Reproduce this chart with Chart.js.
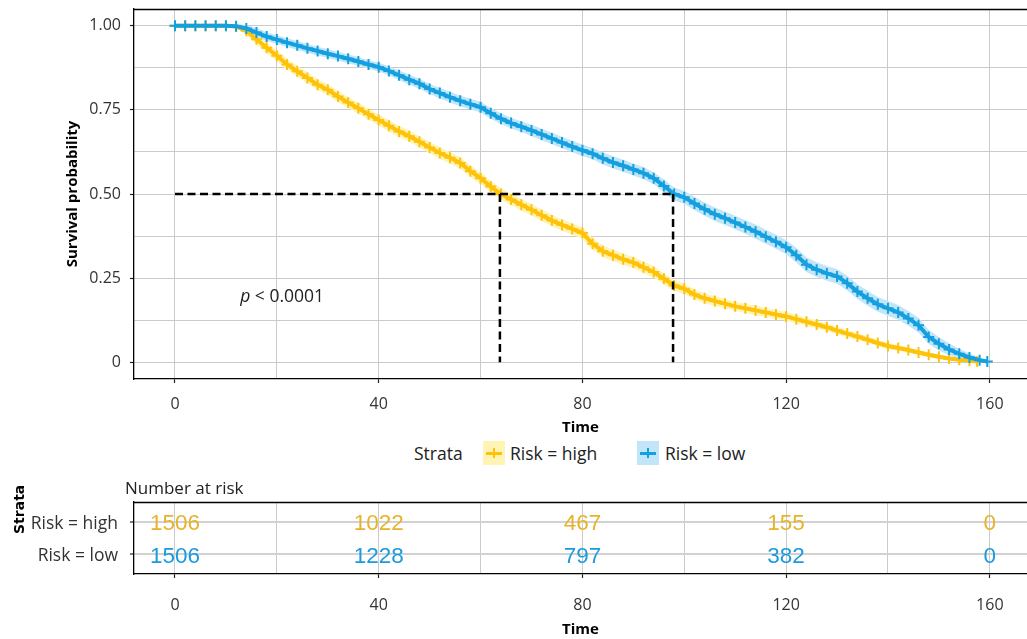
<!DOCTYPE html>
<html><head><meta charset="utf-8">
<script src="https://cdn.jsdelivr.net/npm/chart.js@4.4.1/dist/chart.umd.min.js"></script>
<style>
body{margin:0;width:1027px;height:639px;overflow:hidden;background:#fff;font-family:"Open Sans",sans-serif;position:relative;}
canvas{position:absolute;left:0;}
#c1{top:0;} #c2{top:470px;}
.lbl{position:absolute;white-space:nowrap;color:#222;font-size:17.5px;line-height:24px;}
.key{position:absolute;width:22px;height:24px;}
.key .h{position:absolute;left:3px;top:10.5px;width:16px;height:3px;}
.key .v{position:absolute;left:10px;top:7px;width:2px;height:10px;}
</style></head><body>
<canvas id="c1" width="1027" height="440"></canvas>
<canvas id="c2" width="1027" height="169"></canvas>
<div class="lbl" style="left:414px;top:441px;">Strata</div>
<div class="key" style="left:483px;top:441px;background:#FFF4B3"><span class="h" style="background:#FFC20A"></span><span class="v" style="background:#FFC20A"></span></div>
<div class="lbl" style="left:510px;top:441px;">Risk = high</div>
<div class="key" style="left:637px;top:441px;background:#C2E6F7"><span class="h" style="background:#14A0E0"></span><span class="v" style="background:#14A0E0"></span></div>
<div class="lbl" style="left:665px;top:441px;">Risk = low</div>
<div class="lbl" style="left:125px;top:476px;font-size:17px;">Number at risk</div>
<div class="lbl" style="left:-2px;top:501px;width:42px;text-align:center;transform:rotate(-90deg);font-family:'DejaVu Sans';font-weight:bold;font-size:14px;color:#000;">Strata</div>
<script>
const strata = ['Risk = high', 'Risk = low'];
const timesHigh = [0,2,4,6,8,10,12,14,16,18,20,22,24,26,28,30,32,34,36,38,40,42,44,46,48,50,52,54,56,58,60,62,64,66,68,70,72,74,76,78,80,82,84,86,88,90,92,94,96,98,100,102,104,106,108,110,112,114,116,118,120,122,124,126,128,130,132,134,136,138,140,142,144,146,148,150,152,154,156,157.5];
const survHigh = [1,1,1,1,1,1,0.998,0.985,0.960,0.935,0.911,0.885,0.865,0.845,0.825,0.810,0.790,0.772,0.755,0.737,0.720,0.703,0.686,0.672,0.655,0.638,0.622,0.608,0.592,0.568,0.547,0.522,0.500,0.484,0.468,0.453,0.437,0.421,0.408,0.396,0.384,0.352,0.330,0.318,0.306,0.296,0.282,0.268,0.248,0.228,0.218,0.201,0.190,0.182,0.174,0.166,0.160,0.154,0.148,0.142,0.136,0.128,0.120,0.112,0.104,0.094,0.085,0.076,0.067,0.057,0.048,0.042,0.036,0.029,0.022,0.016,0.011,0.007,0.004,0.002];
const bandHigh = [0.004,0.004,0.004,0.004,0.004,0.004,0.006,0.012,0.016,0.016,0.016,0.016,0.016,0.016,0.016,0.016,0.016,0.016,0.016,0.016,0.016,0.017,0.017,0.017,0.017,0.017,0.017,0.017,0.017,0.017,0.017,0.017,0.017,0.017,0.017,0.017,0.017,0.017,0.017,0.017,0.017,0.017,0.017,0.017,0.017,0.017,0.017,0.017,0.016,0.016,0.015,0.015,0.015,0.015,0.014,0.014,0.014,0.014,0.013,0.013,0.013,0.012,0.012,0.012,0.011,0.011,0.010,0.010,0.009,0.009,0.009,0.008,0.008,0.007,0.007,0.006,0.005,0.004,0.003,0.002];
const timesLow = [0,2,4,6,8,10,12,14,16,18,20,22,24,26,28,30,32,34,36,38,40,42,44,46,48,50,52,54,56,58,60,62,64,66,68,70,72,74,76,78,80,82,84,86,88,90,92,94,96,98,100,102,104,106,108,110,112,114,116,118,120,122,124,126,128,130,132,134,136,138,140,142,144,146,148,150,152,154,156,158,159.5];
const survLow = [1,1,1,1,1,1,0.999,0.992,0.980,0.968,0.959,0.950,0.942,0.933,0.925,0.917,0.910,0.902,0.894,0.885,0.877,0.866,0.853,0.840,0.828,0.812,0.800,0.788,0.777,0.767,0.758,0.740,0.724,0.711,0.700,0.689,0.677,0.665,0.653,0.641,0.630,0.620,0.606,0.594,0.584,0.573,0.562,0.547,0.524,0.500,0.490,0.472,0.455,0.440,0.428,0.415,0.402,0.388,0.373,0.358,0.342,0.318,0.290,0.275,0.264,0.255,0.235,0.210,0.190,0.172,0.160,0.148,0.130,0.110,0.075,0.055,0.038,0.025,0.014,0.006,0.002];
const bandLow = [0.004,0.004,0.004,0.004,0.004,0.004,0.006,0.011,0.013,0.013,0.013,0.013,0.013,0.013,0.013,0.013,0.013,0.013,0.013,0.013,0.013,0.014,0.014,0.015,0.015,0.015,0.016,0.016,0.016,0.016,0.016,0.016,0.016,0.016,0.016,0.017,0.017,0.017,0.017,0.017,0.017,0.017,0.018,0.018,0.018,0.018,0.018,0.018,0.019,0.019,0.019,0.020,0.020,0.020,0.020,0.020,0.020,0.021,0.021,0.021,0.021,0.022,0.022,0.022,0.022,0.022,0.022,0.022,0.022,0.022,0.022,0.022,0.022,0.022,0.021,0.020,0.018,0.015,0.012,0.008,0.004];
const medianTimes = [63.8, 97.8];
const medianLevel = 0.5;
const pValueText = ['p', ' < 0.0001'];
const pValuePos = [12.8, 0.195];
const riskTimes = [0, 40, 80, 120, 160];
const riskHigh = [1506, 1022, 467, 155, 0];
const riskLow = [1506, 1228, 797, 382, 0];
const xTicks = [0, 20, 40, 60, 80, 100, 120, 140, 160];
const yTicks = [0, 0.125, 0.25, 0.375, 0.5, 0.625, 0.75, 0.875, 1];

const colHigh = '#FFC20A', colLow = '#14A0E0';
const bandColHigh = '#FFF4B3', bandColLow = '#C2E6F7';
const txtHigh = '#E7B32A', txtLow = '#1B9BDC';
const XMIN = -8.05, XMAX = 167.3;
const FONT = "'Open Sans', sans-serif";

const pts = (t, s) => t.map((v, i) => ({x: v, y: s[i]}));
const off = (t, s, b, sign) => t.map((v, i) => ({x: v, y: s[i] + sign * b[i]}));

const topBorder = {id: 'topBorder', afterDraw(chart) {
  const {ctx, chartArea: a} = chart;
  ctx.save(); ctx.strokeStyle = '#000'; ctx.lineWidth = 1.3;
  ctx.beginPath(); ctx.moveTo(a.left, Math.round(a.top) + 0.5); ctx.lineTo(a.right, Math.round(a.top) + 0.5); ctx.stroke();
  ctx.restore();
}};

const pvalPlugin = {id: 'pval', afterDatasetsDraw(chart) {
  const {ctx, scales} = chart;
  const x = scales.x.getPixelForValue(pValuePos[0]);
  const y = scales.y.getPixelForValue(pValuePos[1]);
  ctx.save(); ctx.fillStyle = '#222'; ctx.textBaseline = 'middle'; ctx.textAlign = 'left';
  ctx.font = "italic 17.5px " + FONT; ctx.fillText(pValueText[0], x, y);
  const w = ctx.measureText(pValueText[0]).width;
  ctx.font = "17.5px " + FONT; ctx.fillText(pValueText[1], x + w, y);
  ctx.restore();
}};

const dashStyle = {borderColor: '#000', borderWidth: 2.5, borderDash: [8, 4.5], pointRadius: 0, fill: false};
const datasets = [
  Object.assign({data: [{x: 0, y: medianLevel}, {x: Math.max(...medianTimes), y: medianLevel}]}, dashStyle),
  ...medianTimes.map(m => Object.assign({data: [{x: m, y: medianLevel}, {x: m, y: 0}]}, dashStyle)),
  {label: strata[1], data: pts(timesLow, survLow), borderColor: colLow, borderWidth: 4,
   pointStyle: 'cross', pointRadius: 5.5, pointBorderWidth: 2, pointBorderColor: colLow, fill: false},
  {label: strata[0], data: pts(timesHigh, survHigh), borderColor: colHigh, borderWidth: 4,
   pointStyle: 'cross', pointRadius: 5.5, pointBorderWidth: 2, pointBorderColor: colHigh, fill: false},
  {data: off(timesLow, survLow, bandLow, 1), borderWidth: 0, pointRadius: 0, fill: '+1', backgroundColor: bandColLow},
  {data: off(timesLow, survLow, bandLow, -1), borderWidth: 0, pointRadius: 0, fill: false},
  {data: off(timesHigh, survHigh, bandHigh, 1), borderWidth: 0, pointRadius: 0, fill: '+1', backgroundColor: bandColHigh},
  {data: off(timesHigh, survHigh, bandHigh, -1), borderWidth: 0, pointRadius: 0, fill: false}
];

const tickCol = (major) => (ctx) => (ctx.tick && major(ctx.tick.value)) ? '#222' : 'rgba(0,0,0,0)';
const isMajorX = v => v % 40 === 0;
const isMajorY = v => Math.abs(v * 4 - Math.round(v * 4)) < 1e-9;

new Chart(document.getElementById('c1'), {
  type: 'line',
  data: {datasets},
  plugins: [topBorder, pvalPlugin],
  options: {
    responsive: false, animation: false, events: [],
    layout: {autoPadding: false, padding: {top: 9, left: 0, right: 0, bottom: 0}},
    plugins: {legend: {display: false}, tooltip: {enabled: false}},
    scales: {
      x: {type: 'linear', min: XMIN, max: XMAX,
        afterBuildTicks: s => { s.ticks = xTicks.map(v => ({value: v})); },
        afterFit: s => { s.height = 61; s.paddingLeft = 0; s.paddingRight = 0; },
        ticks: {callback: v => isMajorX(v) ? String(v) : '', color: '#333', font: {family: FONT, size: 16}, padding: 12, maxRotation: 0, autoSkip: false},
        grid: {color: '#CBCBCB', lineWidth: 1, tickLength: 4, tickColor: tickCol(isMajorX), tickWidth: 1.2},
        border: {display: true, color: '#000', width: 1.3},
        title: {display: true, text: 'Time', color: '#000', font: {family: FONT, size: 15, weight: 'bold'}, padding: {top: 0, bottom: 3}}
      },
      y: {type: 'linear', min: -0.05, max: 1.05,
        afterBuildTicks: s => { s.ticks = yTicks.map(v => ({value: v})); },
        afterFit: s => { s.width = 134; s.paddingTop = 0; s.paddingBottom = 0; },
        ticks: {callback: v => isMajorY(v) ? (v === 0 ? '0' : v.toFixed(2)) : '', color: '#333', font: {family: FONT, size: 16}, padding: 9, autoSkip: false},
        grid: {color: '#CBCBCB', lineWidth: 1, tickLength: 4, tickColor: tickCol(isMajorY), tickWidth: 1.2},
        border: {display: true, color: '#000', width: 1.3},
        title: {display: true, text: 'Survival probability', color: '#000', font: {family: FONT, size: 15, weight: 'bold'}, padding: {top: 64, bottom: 0}}
      }
    }
  }
});

const riskPlugin = {id: 'risk', afterDatasetsDraw(chart) {
  const {ctx, scales} = chart;
  ctx.save(); ctx.textAlign = 'center'; ctx.textBaseline = 'middle';
  ctx.font = "22.5px 'Liberation Sans', Arial, sans-serif";
  [[riskHigh, 1, txtHigh], [riskLow, 2, txtLow]].forEach(([vals, row, col]) => {
    ctx.fillStyle = col;
    vals.forEach((v, i) => ctx.fillText(String(v), scales.x.getPixelForValue(riskTimes[i]), scales.y.getPixelForValue(row) + 2.5));
  });
  ctx.restore();
}};

new Chart(document.getElementById('c2'), {
  type: 'scatter',
  data: {datasets: [{data: [], pointRadius: 0}]},
  plugins: [topBorder, riskPlugin],
  options: {
    responsive: false, animation: false, events: [],
    layout: {autoPadding: false, padding: {top: 32, left: 0, right: 0, bottom: 0}},
    plugins: {legend: {display: false}, tooltip: {enabled: false}},
    scales: {
      x: {type: 'linear', min: XMIN, max: XMAX,
        afterBuildTicks: s => { s.ticks = xTicks.map(v => ({value: v})); },
        afterFit: s => { s.height = 65; s.paddingLeft = 0; s.paddingRight = 0; },
        ticks: {callback: v => isMajorX(v) ? String(v) : '', color: '#333', font: {family: FONT, size: 16}, padding: 18, maxRotation: 0, autoSkip: false},
        grid: {color: '#CBCBCB', lineWidth: 1, tickLength: 4, tickColor: tickCol(isMajorX), tickWidth: 1.2},
        border: {display: true, color: '#000', width: 1.3},
        title: {display: true, text: 'Time', color: '#000', font: {family: FONT, size: 15, weight: 'bold'}, padding: {top: 0, bottom: 0}}
      },
      y: {type: 'linear', min: 0.4, max: 2.6, reverse: true,
        afterBuildTicks: s => { s.ticks = [1, 2].map(v => ({value: v})); },
        afterFit: s => { s.width = 134; s.paddingTop = 0; s.paddingBottom = 0; },
        ticks: {callback: v => strata[v - 1] || '', color: '#333', font: {family: FONT, size: 17.5}, padding: 12, labelOffset: 2, autoSkip: false},
        grid: {color: '#D2D2D2', lineWidth: 2, tickLength: 4, tickColor: '#222', tickWidth: 1.2},
        border: {display: true, color: '#000', width: 1.3}
      }
    }
  }
});
</script>
</body></html>
